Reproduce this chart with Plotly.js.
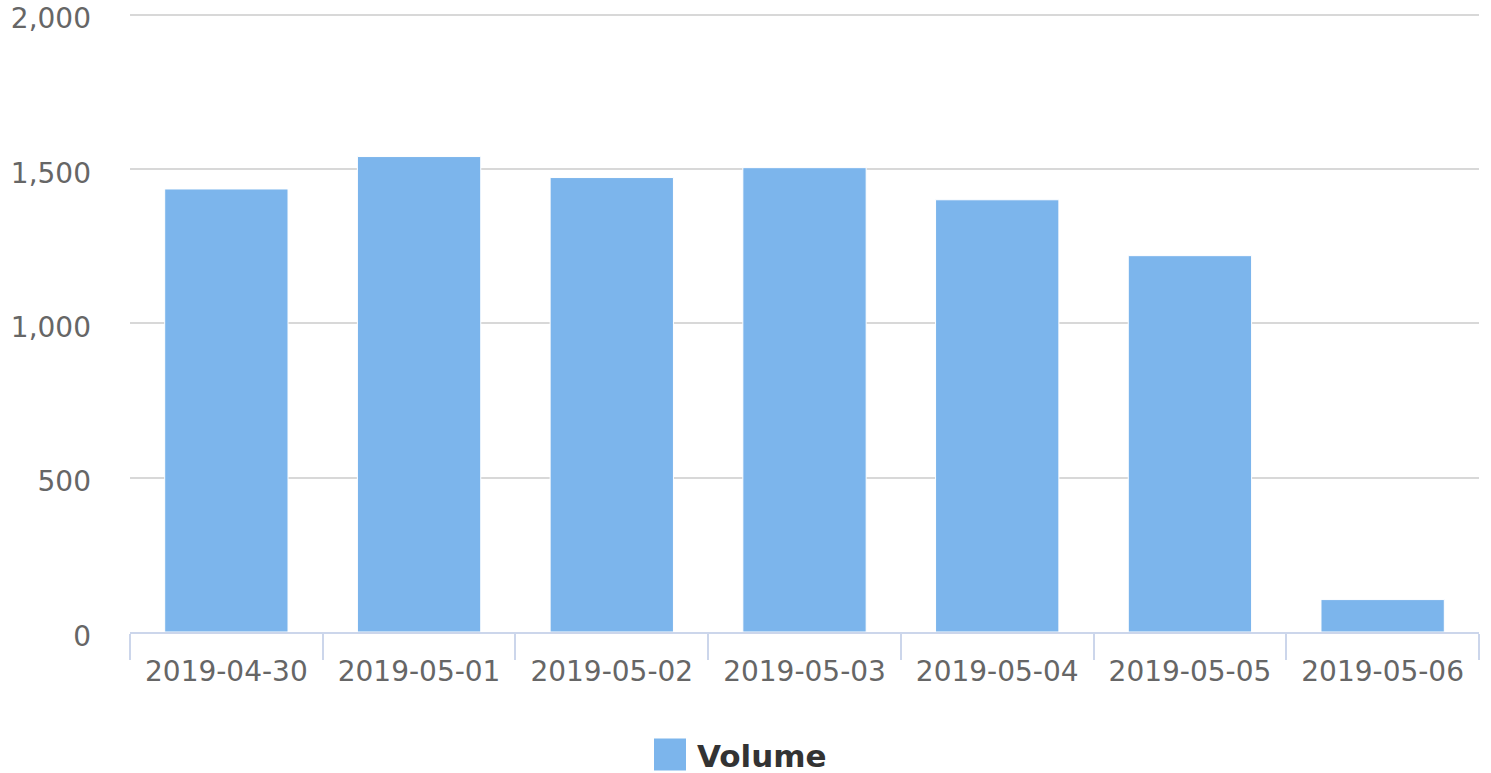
<!DOCTYPE html>
<html>
<head>
<meta charset="utf-8">
<script src="https://cdn.plot.ly/plotly-3.0.1.min.js"></script>
<style>html,body{margin:0;padding:0;background:#fff;}#chart{width:1491px;height:773px;}</style>
</head>
<body>
<div id="chart"></div>
<script>
const categories = ["2019-04-30","2019-05-01","2019-05-02","2019-05-03","2019-05-04","2019-05-05","2019-05-06"];
const volume = [1435, 1540, 1472, 1504, 1400, 1219, 105];
const seriesName = "Volume";
const yTicks = [0, 500, 1000, 1500, 2000];
const yTickLabels = ["0", "500", "1,000", "1,500", "2,000"];

const font = "DejaVu Sans, sans-serif";

const trace = {
  type: "bar",
  x: categories,
  y: volume,
  name: seriesName,
  marker: {color: "#7cb5ec", line: {color: "#ffffff", width: 1}},
  showlegend: false,
  hoverinfo: "x+y"
};

const layout = {
  width: 1491, height: 773,
  margin: {l: 130, r: 12, t: 13, b: 141},
  paper_bgcolor: "#ffffff", plot_bgcolor: "#ffffff",
  bargap: 0.36,
  font: {family: font, color: "#666666", size: 28},
  xaxis: {
    type: "category",
    tickson: "boundaries",
    ticks: "outside", ticklen: 26, tickwidth: 2, tickcolor: "#ccd6eb",
    showline: true, linecolor: "#ccd6eb", linewidth: 2,
    showgrid: false, zeroline: false,
    ticklabelstandoff: 13,
    tickfont: {family: font, size: 28, color: "#666666"}
  },
  yaxis: {
    range: [0, 2005],
    tickvals: yTicks, ticktext: yTickLabels,
    showgrid: true, gridcolor: "#d8d8d8", gridwidth: 2,
    zeroline: false, showline: false, ticks: "",
    ticklabelstandoff: 38,
    ticklabelshift: 4,
    ticklabeloverflow: "allow",
    tickfont: {family: font, size: 28, color: "#666666"}
  },
  shapes: [{
    type: "rect", xref: "paper", yref: "paper",
    x0: (654-130)/1349, x1: (686-130)/1349,
    y0: (632.5-771)/619, y1: (632.5-739)/619,
    fillcolor: "#7cb5ec", line: {width: 0}
  }],
  annotations: [{
    xref: "paper", yref: "paper",
    x: (695-130)/1349, y: (632.5-756)/619,
    xanchor: "left", yanchor: "middle", showarrow: false,
    text: "<b>" + seriesName + "</b>",
    font: {family: font, size: 31, color: "#333333"}
  }]
};

Plotly.newPlot("chart", [trace], layout, {displayModeBar: false, staticPlot: true});
</script>
</body>
</html>
